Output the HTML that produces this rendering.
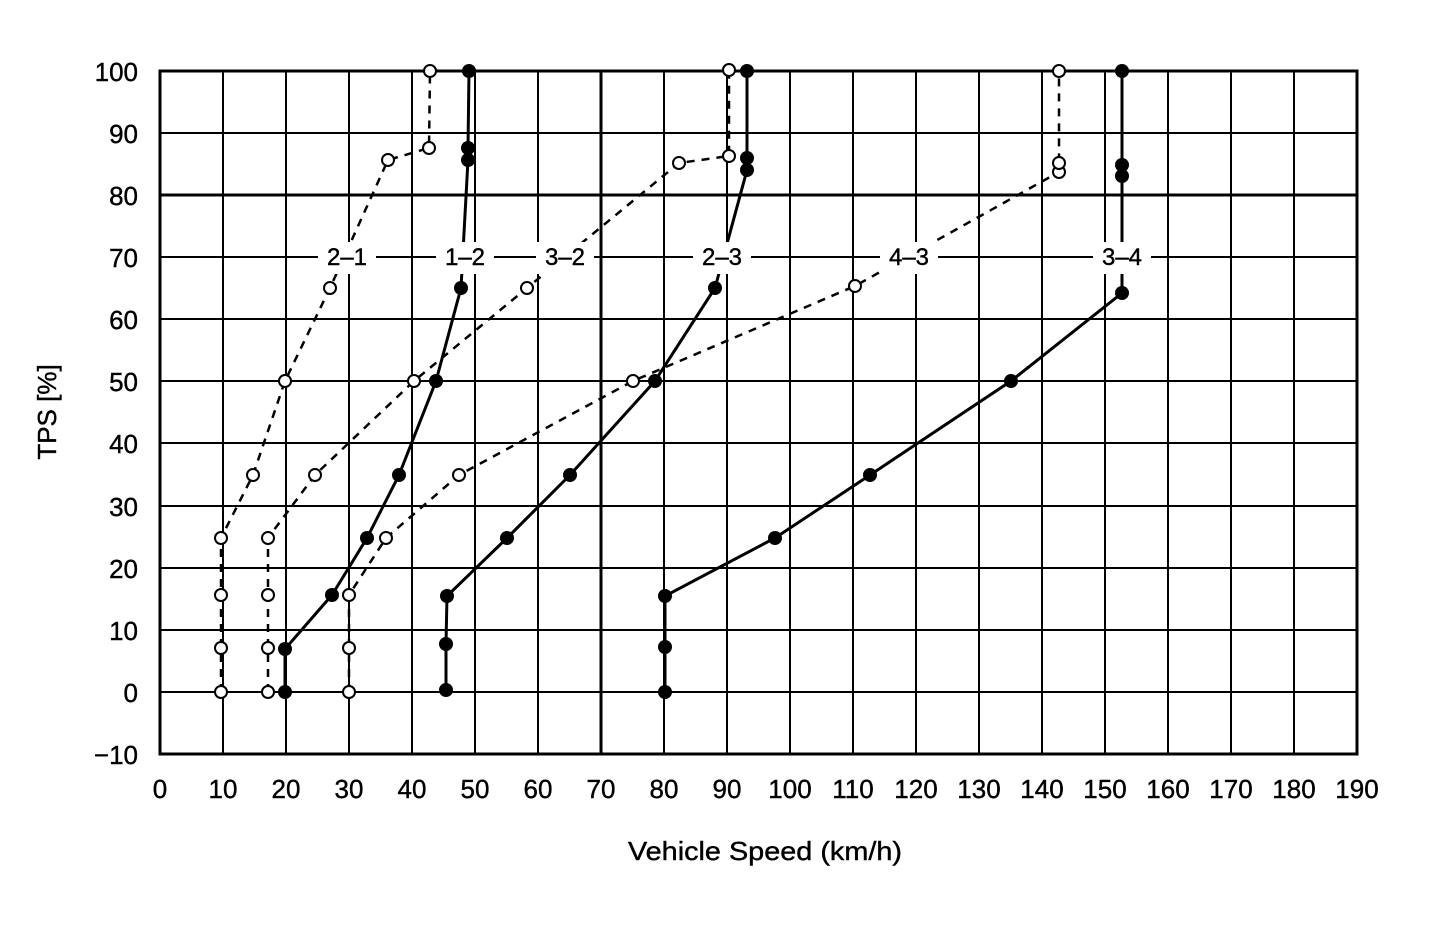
<!DOCTYPE html>
<html><head><meta charset="utf-8"><style>
html,body{margin:0;padding:0;background:#fff;}
svg{display:block;font-family:"Liberation Sans",sans-serif;}
</style></head><body>
<svg width="1440" height="934" viewBox="0 0 1440 934" xmlns="http://www.w3.org/2000/svg">
<g stroke="#000" stroke-width="2" fill="none">
<path d="M223 71V754M286 71V754M349 71V754M412 71V754M475 71V754M538 71V754M664 71V754M727 71V754M790 71V754M853 71V754M916 71V754M979 71V754M1042 71V754M1105 71V754M1168 71V754M1231 71V754M1294 71V754"/>
<path d="M160 133H1357M160 257H1357M160 319H1357M160 381H1357M160 443H1357M160 506H1357M160 568H1357M160 630H1357M160 692H1357"/>
<path d="M601 71V754M160 195H1357" stroke-width="3"/>
<rect x="160" y="71" width="1197" height="683" stroke-width="3"/>
</g>
<g stroke="#000" stroke-width="2.5" fill="none" stroke-dasharray="8,7">
<polyline points="221,692 221,648 221,595 221,538 253,475 285,381 330,288 388,160 429,148 430,71"/>
<polyline points="268,692 268,648 268,595 268,538 315,475 414,381 527,288 679,163 729,156 729,71"/>
<polyline points="349,692 349,648 349,595 386,538 459,475 633,381 855,286 1059,172 1059,163 1059,71"/>
</g>
<g stroke="#000" stroke-width="3" fill="none">
<polyline points="285,692 285,649 332,595 367,538 399,475 436,381 461,288 468,160 468,148 469,71"/>
<polyline points="446,692 446,644 447,596 507,538 570,475 655,381 715,288 747,170 747,158 747,71"/>
<polyline points="665,692 665,647 665,596 775,538 870,475 1011,381 1122,293 1122,176 1122,165 1122,71"/>
</g>
<g fill="#fff" stroke="#000" stroke-width="2">
<circle cx="221" cy="692" r="6"/><circle cx="221" cy="648" r="6"/><circle cx="221" cy="595" r="6"/><circle cx="221" cy="538" r="6"/><circle cx="253" cy="475" r="6"/><circle cx="285" cy="381" r="6"/><circle cx="330" cy="288" r="6"/><circle cx="388" cy="160" r="6"/><circle cx="429" cy="148" r="6"/><circle cx="430" cy="71" r="6"/>
<circle cx="268" cy="692" r="6"/><circle cx="268" cy="648" r="6"/><circle cx="268" cy="595" r="6"/><circle cx="268" cy="538" r="6"/><circle cx="315" cy="475" r="6"/><circle cx="414" cy="381" r="6"/><circle cx="527" cy="288" r="6"/><circle cx="679" cy="163" r="6"/><circle cx="729" cy="156" r="6"/><circle cx="729" cy="70" r="6"/>
<circle cx="349" cy="692" r="6"/><circle cx="349" cy="648" r="6"/><circle cx="349" cy="595" r="6"/><circle cx="386" cy="538" r="6"/><circle cx="459" cy="475" r="6"/><circle cx="633" cy="381" r="6"/><circle cx="855" cy="286" r="6"/><circle cx="1059" cy="172" r="6"/><circle cx="1059" cy="163" r="6"/><circle cx="1059" cy="71" r="6"/>
</g>
<g fill="#000">
<circle cx="285" cy="692" r="7"/><circle cx="285" cy="649" r="7"/><circle cx="332" cy="595" r="7"/><circle cx="367" cy="538" r="7"/><circle cx="399" cy="475" r="7"/><circle cx="436" cy="381" r="7"/><circle cx="461" cy="288" r="7"/><circle cx="468" cy="160" r="7"/><circle cx="468" cy="148" r="7"/><circle cx="469" cy="71" r="7"/>
<circle cx="446" cy="690" r="7"/><circle cx="446" cy="644" r="7"/><circle cx="447" cy="596" r="7"/><circle cx="507" cy="538" r="7"/><circle cx="570" cy="475" r="7"/><circle cx="655" cy="381" r="7"/><circle cx="715" cy="288" r="7"/><circle cx="747" cy="170" r="7"/><circle cx="747" cy="158" r="7"/><circle cx="747" cy="71" r="7"/>
<circle cx="665" cy="692" r="7"/><circle cx="665" cy="647" r="7"/><circle cx="665" cy="596" r="7"/><circle cx="775" cy="538" r="7"/><circle cx="870" cy="475" r="7"/><circle cx="1011" cy="381" r="7"/><circle cx="1122" cy="293" r="7"/><circle cx="1122" cy="176" r="7"/><circle cx="1122" cy="165" r="7"/><circle cx="1122" cy="71" r="7"/>
</g>
<g font-size="24" text-anchor="middle" stroke="#000" stroke-width="0.4">
<rect x="318" y="242" width="58" height="32" fill="#fff" stroke="none"/><text x="347" y="265">2–1</text>
<rect x="436" y="242" width="58" height="32" fill="#fff" stroke="none"/><text x="465" y="265">1–2</text>
<rect x="536" y="242" width="58" height="32" fill="#fff" stroke="none"/><text x="565" y="265">3–2</text>
<rect x="693" y="242" width="58" height="32" fill="#fff" stroke="none"/><text x="722" y="265">2–3</text>
<rect x="880" y="242" width="58" height="32" fill="#fff" stroke="none"/><text x="909" y="265">4–3</text>
<rect x="1093" y="242" width="58" height="32" fill="#fff" stroke="none"/><text x="1122" y="265">3–4</text>
</g>
<g font-size="26" text-anchor="end" stroke="#000" stroke-width="0.4">
<text x="138" y="81">100</text><text x="138" y="143">90</text><text x="138" y="205">80</text><text x="138" y="267">70</text><text x="138" y="329">60</text><text x="138" y="391">50</text><text x="138" y="453">40</text><text x="138" y="516">30</text><text x="138" y="578">20</text><text x="138" y="640">10</text><text x="138" y="702">0</text><text x="138" y="764">−10</text>
</g>
<g font-size="26" text-anchor="middle" stroke="#000" stroke-width="0.4">
<text x="160" y="798">0</text><text x="223" y="798">10</text><text x="286" y="798">20</text><text x="349" y="798">30</text><text x="412" y="798">40</text><text x="475" y="798">50</text><text x="538" y="798">60</text><text x="601" y="798">70</text><text x="664" y="798">80</text><text x="727" y="798">90</text><text x="790" y="798">100</text><text x="853" y="798">110</text><text x="916" y="798">120</text><text x="979" y="798">130</text><text x="1042" y="798">140</text><text x="1105" y="798">150</text><text x="1168" y="798">160</text><text x="1231" y="798">170</text><text x="1294" y="798">180</text><text x="1357" y="798">190</text>
<text x="765" y="860" textLength="274" lengthAdjust="spacingAndGlyphs">Vehicle Speed (km/h)</text>
<text transform="translate(56,412) rotate(-90)">TPS [%]</text>
</g>
</svg>
</body></html>
